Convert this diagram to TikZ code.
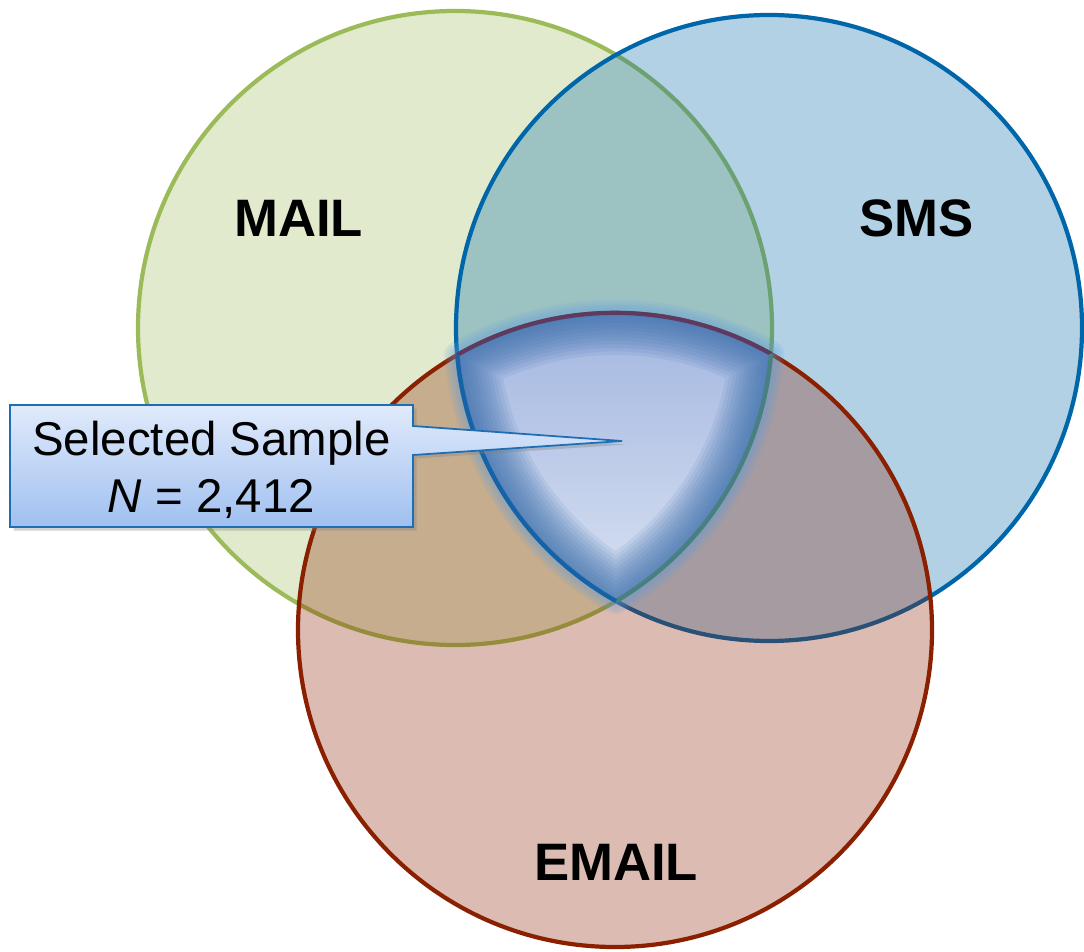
\documentclass[tikz,border=0pt]{standalone}
\usepackage{fontspec}
\setmainfont{Liberation Sans}
\usetikzlibrary{shadows}
\definecolor{mailg}{RGB}{155,187,89}
\definecolor{smsb}{RGB}{0,102,170}
\definecolor{emailr}{RGB}{138,32,0}
\definecolor{glowc}{RGB}{90,155,220}
\definecolor{edgec}{RGB}{55,108,170}
\definecolor{cenTop}{RGB}{160,180,224}
\definecolor{cenBot}{RGB}{216,225,241}
\definecolor{boxTop}{RGB}{224,234,251}
\definecolor{boxBot}{RGB}{160,192,240}
\definecolor{boxLine}{RGB}{30,110,180}
\definecolor{arcRed}{RGB}{95,58,95}
\definecolor{arcGreen}{RGB}{72,128,128}
\definecolor{arcBlue}{RGB}{20,98,168}
\begin{document}
\begin{tikzpicture}[x=0.02cm,y=-0.02cm,
  venn/.style={line width=2.4pt, fill opacity=0.3},
  lbl/.style={font=\fontsize{30}{36}\selectfont\bfseries, anchor=base, inner sep=0pt},
  seltext/.style={font=\fontsize{27}{32}\selectfont, anchor=base, inner sep=0pt},
  tripath/.style={insert path={(457,355) arc[start angle=-119.9,end angle=-60.5,radius=317] arc[start angle=4.7,end angle=59.5,radius=317] arc[start angle=119.3,end angle=175.1,radius=313] -- cycle}},
  glowline/.style={draw=glowc, draw opacity=0.12, line join=round},
  edgeline/.style={draw=edgec, draw opacity=0.1, line join=round},
]
\useasboundingbox (0,0) rectangle (1084,952);
\coordinate (cM) at (455,328);
\coordinate (cS) at (769,328);
\coordinate (cE) at (615,630);
% circles
\draw[venn, draw=mailg, fill=mailg] (cM) circle[radius=317];
\draw[venn, draw=smsb, fill=smsb] (cS) circle[radius=313];
\draw[venn, draw=emailr, fill=emailr] (cE) circle[radius=317];
% outer glow of the triple intersection
\foreach \w in {3,6,...,15}
  \draw[tripath, glowline, line width=\w pt];
% inner body
\begin{scope}
  \clip[tripath];
  \shade[tripath, top color=cenTop, bottom color=cenBot];
  \foreach \w in {4,8,...,48}
    \draw[tripath, edgeline, line width=\w pt];
\end{scope}
% boundary arcs
\draw[line width=2.4pt, draw=arcRed] (457,355) arc[start angle=-119.9,end angle=-60.5,radius=317];
\draw[line width=2.4pt, draw=arcGreen] (771,354) arc[start angle=4.7,end angle=59.5,radius=317];
\draw[line width=2.4pt, draw=arcBlue] (616,601) arc[start angle=119.3,end angle=175.1,radius=313];
% labels
\node[lbl] (mail) at (298.5,237) {MAIL};
\node[lbl] (sms) at (916.5,237) {SMS};
\node[lbl] (email) at (616,880) {EMAIL};
% callout
\coordinate (tip) at (622,441);
\draw[line width=1pt, draw=boxLine, top color=boxTop, bottom color=boxBot,
  drop shadow={shadow xshift=2pt, shadow yshift=-2pt, opacity=0.35}]
  (10,405) -- (413,405) -- (413,426) -- (tip) -- (413,455) -- (413,527) -- (10,527) -- cycle;
\node[seltext] (sel1) at (211.5,455) {Selected Sample};
\node[seltext] (sel2) at (211.5,512) {\textit{N} = 2,412};
\end{tikzpicture}
\end{document}
